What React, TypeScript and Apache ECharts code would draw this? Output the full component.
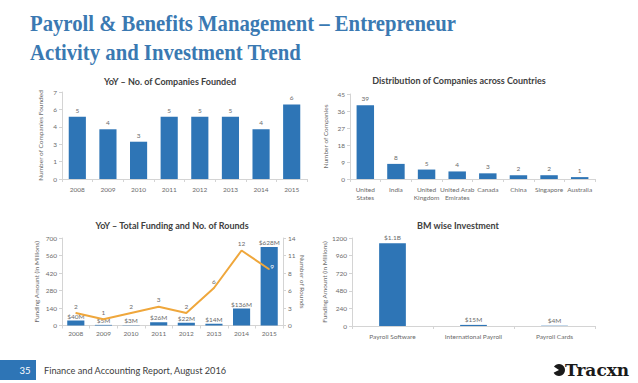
import React, { useEffect, useRef } from "react";
import * as echarts from "echarts";

const years = ["2008", "2009", "2010", "2011", "2012", "2013", "2014", "2015"];
const companiesFounded = [5, 4, 3, 5, 5, 5, 4, 6];

const countries = [
  "United\nStates",
  "India",
  "United\nKingdom",
  "United Arab\nEmirates",
  "Canada",
  "China",
  "Singapore",
  "Australia",
];
const companiesByCountry = [39, 8, 5, 4, 3, 2, 2, 1];

const fundingMillions = [40, 5, 3, 26, 22, 14, 136, 628];
const fundingLabels = ["$40M", "$5M", "$3M", "$26M", "$22M", "$14M", "$136M", "$628M"];
const rounds = [2, 1, 2, 3, 2, 6, 12, 9];

const bmCategories = ["Payroll Software", "International Payroll", "Payroll Cards"];
const bmInvestment = [1130, 15, 4];
const bmLabels = ["$1.1B", "$15M", "$4M"];

const chartTitles = [
  "YoY \u2013 No. of Companies Founded",
  "Distribution of Companies across Countries",
  "YoY \u2013 Total Funding and No. of Rounds",
  "BM wise Investment",
];
const mainTitle = ["Payroll & Benefits Management \u2013 Entrepreneur", "Activity and Investment Trend"];
const footerPage = "35";
const footerText = "Finance and Accounting Report, August 2016";
const brand = "Tracxn";

const BLUE = "#2E75B6";
const ORANGE = "#EFA73C";
const TXT = "#6b6b6b";
const AXIS = "#D4D4D4";
const FONT = "Lato";

export default function App() {
  const ref = useRef<HTMLDivElement>(null);
  useEffect(() => {
    document.body.style.margin = "0";
    const chart = echarts.init(ref.current!, null, { renderer: "svg" });
    const axisLine = { show: true, lineStyle: { color: AXIS, width: 1 } };
    const axisTick = { show: true, length: 3, lineStyle: { color: AXIS } };
    const lbl = { fontSize: 6.5, color: TXT, fontFamily: FONT };
    const catAxis = (gridIndex: number, data: string[], margin = 5) => ({
      type: "category",
      gridIndex,
      data,
      axisLine,
      axisTick,
      axisLabel: { ...lbl, margin, interval: 0, lineHeight: 8.5 },
    });
    const valAxis = (gridIndex: number, max: number, interval: number, name: string, nameGap: number, round = false, extra: any = {}) => ({
      type: "value",
      gridIndex,
      min: 0,
      max,
      interval,
      splitLine: { show: false },
      axisLine,
      axisTick,
      axisLabel: { ...lbl, margin: 5, formatter: (v: number) => (round ? String(Math.round(v)) : String(v)) },
      name,
      nameLocation: "middle",
      nameGap,
      nameTextStyle: { fontSize: 6.5, color: TXT, fontFamily: FONT },
      ...extra,
    });
    const titleText = (text: string, x: number, y: number) => ({
      type: "text",
      x,
      y,
      style: { text, fontSize: 9, fontWeight: "bold", fontFamily: FONT, fill: "#404040", align: "center", verticalAlign: "middle" },
    });
    const dataLabel = { show: true, position: "top", distance: 3, ...lbl };
    const titleStyle = { fontSize: 23, fontWeight: "bold", fontFamily: "Liberation Serif", fill: "#3A79B2", align: "left", verticalAlign: "middle" };

    chart.setOption({
      animation: false,
      backgroundColor: "#ffffff",
      grid: [
        { left: 62, top: 92, width: 245, height: 87 },
        { left: 350, top: 94, width: 245, height: 85 },
        { left: 62, top: 238, width: 221, height: 87.5 },
        { left: 352, top: 238, width: 243, height: 88 },
      ],
      xAxis: [
        catAxis(0, years, 6),
        catAxis(1, countries, 6),
        catAxis(2, years, 4),
        catAxis(3, bmCategories, 6),
      ],
      yAxis: [
        valAxis(0, 7, 1.4, "Number of Companies Founded", 18, true),
        valAxis(1, 45, 9, "Number of Companies", 21),
        valAxis(2, 700, 140, "Funding Amount (in Millions)", 22),
        valAxis(2, 14, 2.8, "Number of Rounds", 16, true, { position: "right", nameRotate: -90 }),
        valAxis(3, 1200, 240, "Funding Amount (in Millions)", 24),
      ],
      series: [
        {
          type: "bar",
          xAxisIndex: 0,
          yAxisIndex: 0,
          data: companiesFounded,
          barWidth: "56%",
          itemStyle: { color: BLUE },
          label: dataLabel,
        },
        {
          type: "bar",
          xAxisIndex: 1,
          yAxisIndex: 1,
          data: companiesByCountry,
          barWidth: "57%",
          itemStyle: { color: BLUE },
          label: dataLabel,
        },
        {
          type: "bar",
          xAxisIndex: 2,
          yAxisIndex: 2,
          data: fundingMillions,
          barWidth: "62%",
          itemStyle: { color: BLUE },
          label: { ...dataLabel, distance: 1, formatter: (p: any) => fundingLabels[p.dataIndex] },
        },
        {
          type: "line",
          xAxisIndex: 2,
          yAxisIndex: 3,
          data: rounds.map((v, i) =>
            i === rounds.length - 1
              ? { value: v, label: { color: "#ffffff", offset: [3, 4] } }
              : v
          ),
          symbol: "circle",
          symbolSize: 1,
          itemStyle: { color: ORANGE },
          lineStyle: { color: ORANGE, width: 2 },
          label: { ...dataLabel, distance: 3 },
          z: 5,
        },
        {
          type: "bar",
          xAxisIndex: 3,
          yAxisIndex: 4,
          data: bmInvestment,
          barWidth: "33%",
          itemStyle: { color: BLUE },
          label: { ...dataLabel, distance: 2, formatter: (p: any) => bmLabels[p.dataIndex] },
        },
      ],
      graphic: [
        { type: "text", x: 30, y: 24, scaleX: 0.9, style: { text: mainTitle[0], ...titleStyle } },
        { type: "text", x: 30, y: 53, scaleX: 0.9, style: { text: mainTitle[1], ...titleStyle } },
        titleText(chartTitles[0], 170, 81),
        titleText(chartTitles[1], 459, 80),
        titleText(chartTitles[2], 172, 225),
        titleText(chartTitles[3], 458, 225),
        { type: "rect", shape: { x: 0, y: 360, width: 36, height: 20 }, style: { fill: BLUE } },
        {
          type: "text",
          x: 25,
          y: 370,
          style: { text: footerPage, fontSize: 9.5, fontFamily: FONT, fill: "#ffffff", align: "center", verticalAlign: "middle" },
        },
        {
          type: "text",
          x: 44,
          y: 370,
          style: { text: footerText, fontSize: 9.2, fontFamily: FONT, fill: "#404040", align: "left", verticalAlign: "middle" },
        },
        { type: "circle", shape: { cx: 559, cy: 370, r: 6 }, style: { fill: "#1a1a1a" } },
        { type: "polygon", shape: { points: [[553, 366], [559, 370], [553, 373]] }, style: { fill: "#ffffff" } },
        {
          type: "text",
          x: 565,
          y: 370,
          style: { text: brand, fontSize: 17, fontWeight: "bold", fontFamily: "DejaVu Serif", fill: "#1a1a1a", align: "left", verticalAlign: "middle" },
        },
      ],
    });
    return () => chart.dispose();
  }, []);
  return <div ref={ref} style={{ width: 638, height: 383 }} />;
}
